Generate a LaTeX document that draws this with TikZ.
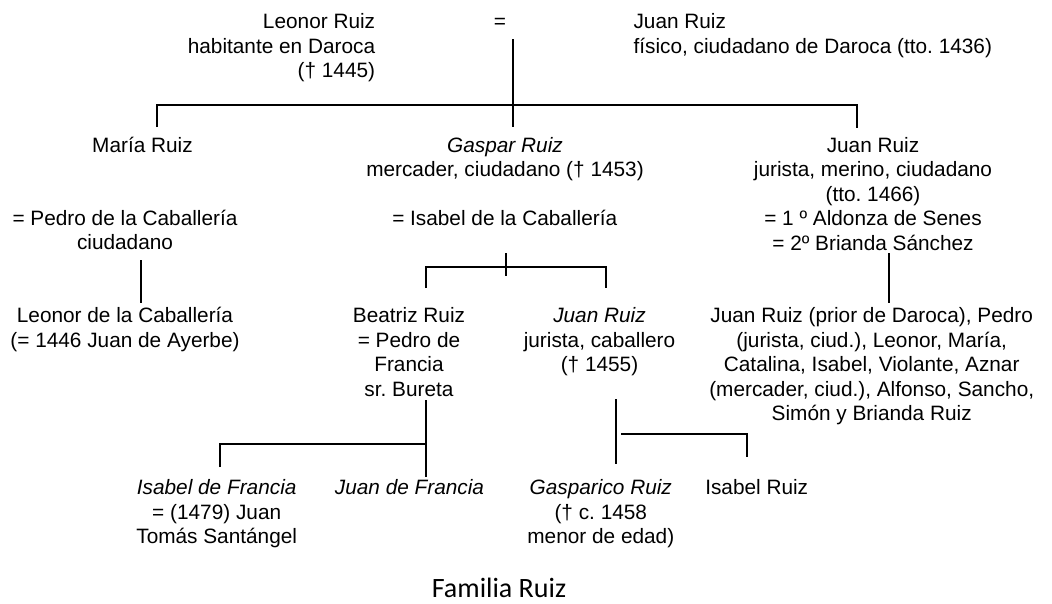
\documentclass[tikz,border=0pt]{standalone}
\usepackage{fontspec}
\setmainfont{Liberation Sans}
\newfontfamily\capfont{Carlito}
\usetikzlibrary{positioning}
\tikzset{>=latex}
\frenchspacing

\begin{document}
\begin{tikzpicture}[x=1pt,y=-1pt,line width=1.7pt,every node/.style={inner sep=0pt,anchor=base,align=center,font=\fontsize{20.8}{24.5}\selectfont}]
\useasboundingbox (0,0) rectangle (1052,603);
% padres
\node[align=right,anchor=base east] (leonor) at (376,77.5) {Leonor Ruiz\\habitante en Daroca\\(† 1445)};
\node (eq) at (500,28.5) {=};
\node[align=left,anchor=base west] (juan) at (632.7,53) {Juan Ruiz\\físico, ciudadano de Daroca (tto. 1436)};
% hijos
\node (maria) at (142.5,152) {María Ruiz};
\node (gaspar) at (505,176.5) {\textit{Gaspar Ruiz}\\mercader, ciudadano († 1453)};
\node (juanjr) at (873,250) {Juan Ruiz\\jurista, merino, ciudadano\\(tto. 1466)\\= 1 º Aldonza de Senes\\= 2º Brianda Sánchez};
\node (pedro) at (125,249.5) {= Pedro de la Caballería\\ciudadano};
\node (isabelc) at (504.7,225) {= Isabel de la Caballería};
% nietos
\node (leonorc) at (125,347) {Leonor de la Caballería\\(= 1446 Juan de Ayerbe)};
\node (beatriz) at (409,396) {Beatriz Ruiz\\= Pedro de\\Francia\\sr. Bureta};
\node (juanj) at (599.5,371.5) {\textit{Juan Ruiz}\\jurista, caballero\\(† 1455)};
\node (hijos) at (871.7,420.5) {Juan Ruiz (prior de Daroca), Pedro\\(jurista, ciud.), Leonor, María,\\Catalina, Isabel, Violante, Aznar\\(mercader, ciud.), Alfonso, Sancho,\\Simón y Brianda Ruiz};
% bisnietos
\node (isabelf) at (216.7,543.5) {\textit{Isabel de Francia}\\= (1479) Juan\\Tomás Santángel};
\node (juanf) at (409.5,494.5) {\textit{Juan de Francia}};
\node (gasparico) at (600.8,543.5) {\textit{Gasparico Ruiz}\\(† c. 1458\\menor de edad)};
\node (isabelr) at (756.7,494.5) {Isabel Ruiz};
\node[font=\capfont\fontsize{28}{33}\selectfont] (titulo) at (499,597) {Familia Ruiz};
% puntos de las lineas
\coordinate (m1) at (512.7,39);
\coordinate (m2) at (512.7,127);
\coordinate (r1) at (512.7,105);
\coordinate (c-maria) at (156.7,127);
\coordinate (c-juanjr) at (857,127.7);
\coordinate (p1) at (140.7,260);
\coordinate (p2) at (140.7,303);
\coordinate (t1) at (505.7,253);
\coordinate (t2) at (505.7,276);
\coordinate (r2) at (505.7,267);
\coordinate (c-beatriz) at (425.7,288);
\coordinate (c-juanj) at (606,288);
\coordinate (q1) at (889,253);
\coordinate (q2) at (889,303);
\coordinate (b1) at (425.7,400);
\coordinate (b2) at (425.7,476.7);
\coordinate (b3) at (425.7,444.3);
\coordinate (c-isabelf) at (220,467);
\coordinate (j1) at (615.7,399);
\coordinate (j2) at (615.7,464);
\coordinate (j3) at (621,434);
\coordinate (c-isabelr) at (746.7,456.7);
% lineas
\draw (m1) -- (m2);
\draw (c-maria) |- (r1) -| (c-juanjr);
\draw (p1) -- (p2);
\draw (t1) -- (t2);
\draw (c-beatriz) |- (r2) -| (c-juanj);
\draw (q1) -- (q2);
\draw (b1) -- (b2);
\draw (c-isabelf) |- (b3);
\draw (j1) -- (j2);
\draw (j3) -| (c-isabelr);
\end{tikzpicture}
\end{document}
